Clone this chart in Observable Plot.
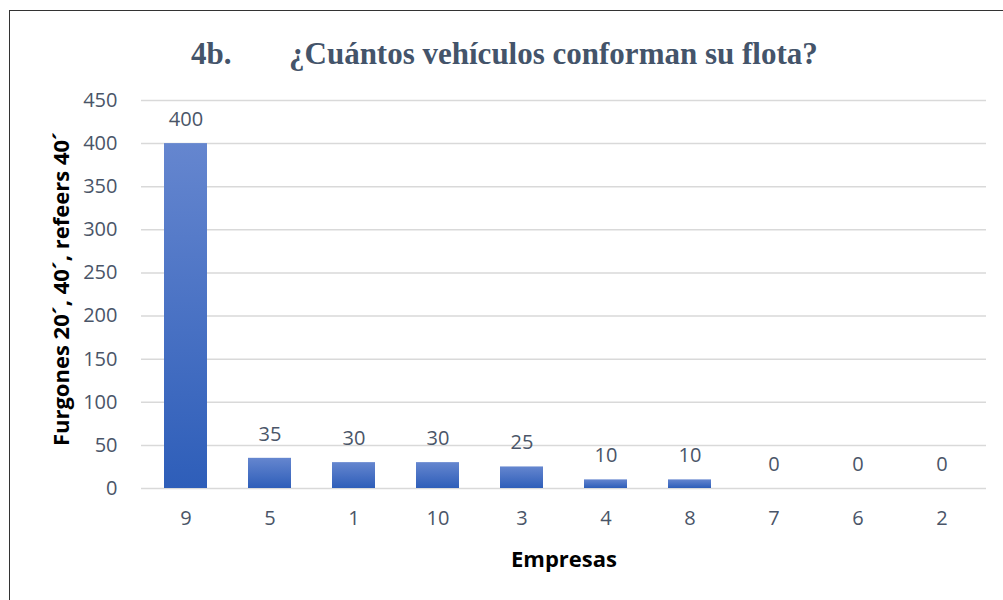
<!DOCTYPE html>
<html><head><meta charset="utf-8">
<script src="https://cdn.jsdelivr.net/npm/d3@7"></script>
<script src="https://cdn.jsdelivr.net/npm/@observablehq/plot@0.6"></script>
<style>
body{margin:0;background:#fff;}
#wrap{position:relative;width:1003px;height:600px;overflow:hidden;}
#frame{position:absolute;left:9px;top:10px;width:1100px;height:700px;border:1px solid #333;box-sizing:border-box;pointer-events:none;}
.t{position:absolute;font-family:"Liberation Serif",serif;font-weight:bold;font-size:31px;color:#44546A;white-space:pre;line-height:1;}
#chart{position:absolute;left:0;top:0;}
#xt{position:absolute;left:464px;width:200px;top:544px;text-align:center;font-family:'Open Sans',sans-serif;font-weight:bold;font-size:22px;color:#000;line-height:28px;}
#yt{position:absolute;left:60px;top:289px;width:0;height:0;}
#yt span{position:absolute;left:0;top:0;transform:translate(-50%,-50%) rotate(-90deg);white-space:nowrap;font-family:'Open Sans',sans-serif;font-weight:bold;font-size:22px;color:#000;line-height:28px;}
</style></head>
<body><div id="wrap"><div id="chart"></div>
<div class="t" id="t1" style="left:191px;top:38px;">4b.</div>
<div class="t" id="t2" style="left:289px;top:38px;">¿Cuántos vehículos conforman su flota?</div>
<div id="xt">Empresas</div>
<div id="yt"><span>Furgones 20´, 40´, refeers 40´</span></div>
<div id="frame"></div></div>
<script>
const empresas = ["9","5","1","10","3","4","8","7","6","2"];
const vehiculos = [400,35,30,30,25,10,10,0,0,0];
const yTicks = [0,50,100,150,200,250,300,350,400,450];
const data = empresas.map((e,i)=>({empresa:e, valor:vehiculos[i]}));

const defs = () => {
  const g = d3.create("svg:defs");
  const lg = g.append("linearGradient").attr("id","barGrad").attr("x1",0).attr("y1",0).attr("x2",0).attr("y2",1);
  lg.append("stop").attr("offset","0%").attr("stop-color","#6586cf");
  lg.append("stop").attr("offset","100%").attr("stop-color","#2e5eb9");
  return g.node();
};

const tickColor = "#4a5568";
const chart = Plot.plot({
  width:1003, height:600,
  marginLeft:141, marginRight:17, marginTop:100, marginBottom:112,
  style:{fontFamily:"'Open Sans', sans-serif", fontSize:"20px", color:tickColor, background:"transparent"},
  x:{domain:empresas, paddingInner:0.49, paddingOuter:0.245, label:null},
  y:{domain:[0,450], ticks:yTicks, label:null},
  marks:[
    defs,
    Plot.gridY(yTicks,{stroke:"#d9d9d9", strokeOpacity:1, strokeWidth:1.5}),
    Plot.barY(data,{x:"empresa", y:"valor", fill:"url(#barGrad)"}),
    Plot.text(data,{x:"empresa", y:"valor", text:d=>String(d.valor), dy:-24, fill:tickColor, fontSize:20}),
    Plot.axisY(yTicks,{tickSize:0, tickPadding:24, fill:tickColor, fontSize:20, label:null}),
    Plot.axisX({tickSize:0, tickPadding:22, fill:tickColor, fontSize:20, label:null})
  ]
});
document.getElementById("chart").appendChild(chart);
</script></body></html>
